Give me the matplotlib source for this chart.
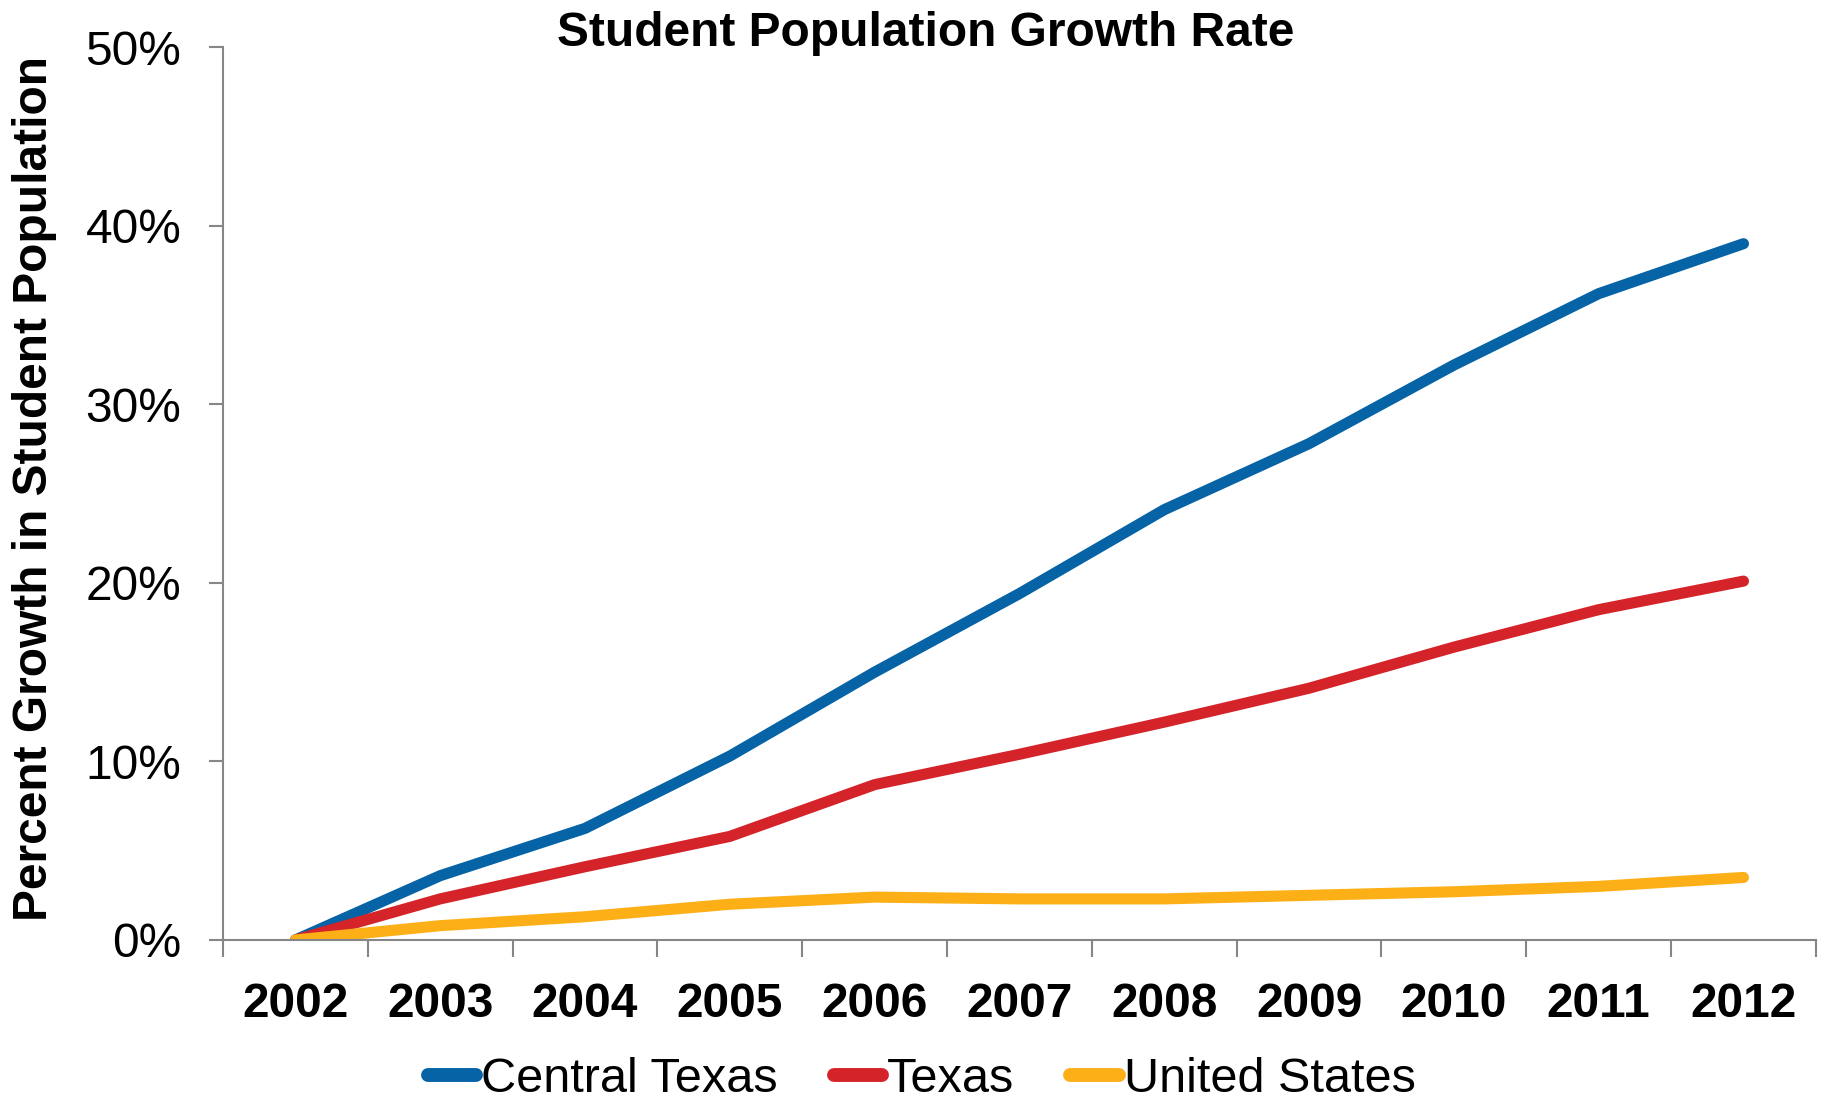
import matplotlib
matplotlib.use("Agg")
import matplotlib.pyplot as plt
from matplotlib.ticker import FixedLocator, PercentFormatter

plt.rcParams['font.family'] = ['Liberation Sans', 'DejaVu Sans']

years = ["2002", "2003", "2004", "2005", "2006", "2007", "2008", "2009", "2010", "2011", "2012"]
central_texas = [0.0, 3.6, 6.25, 10.3, 15.0, 19.4, 24.1, 27.8, 32.2, 36.2, 39.0]
texas = [0.0, 2.3, 4.1, 5.8, 8.7, 10.4, 12.2, 14.1, 16.4, 18.5, 20.1]
united_states = [0.0, 0.8, 1.3, 2.0, 2.4, 2.3, 2.3, 2.5, 2.7, 3.0, 3.5]
yticks = [0, 10, 20, 30, 40, 50]

fig = plt.figure(figsize=(18.25, 11), dpi=100)
ax = fig.add_axes([0.1222, 0.1455, 0.8728, 0.8115])

x = list(range(len(years)))
ax.plot(x, central_texas, color="#0563A6", lw=8, solid_capstyle="round", label="Central Texas")
ax.plot(x, texas, color="#D5232A", lw=8, solid_capstyle="round", label="Texas")
ax.plot(x, united_states, color="#FCAF17", lw=8, solid_capstyle="round", label="United States")

ax.set_xlim(-0.5, len(years) - 0.5)
ax.set_ylim(0, 50)
ax.set_yticks(yticks)
ax.yaxis.set_major_formatter(PercentFormatter(decimals=0))
ax.set_xticks(x)
ax.set_xticklabels(years, fontsize=34.5, fontweight="bold")
ax.xaxis.set_minor_locator(FixedLocator([i - 0.5 for i in range(len(years) + 1)]))
ax.tick_params(axis="x", which="major", length=0, pad=30)
ax.tick_params(axis="x", which="minor", length=12, width=1.5, color="#868686", direction="out")
ax.tick_params(axis="y", which="major", length=10, width=1.5, color="#868686", labelsize=34.5, pad=20)

for s in ["top", "right"]:
    ax.spines[s].set_visible(False)
for s in ["left", "bottom"]:
    ax.spines[s].set_color("#868686")
    ax.spines[s].set_linewidth(1.5)

fig.text(0.507, 0.970, "Student Population Growth Rate", ha="center", va="center",
         fontsize=34.5, fontweight="bold")
fig.text(0.019, 0.556, "Percent Growth in Student Population", ha="center", va="center",
         rotation=90, fontsize=34.5, fontweight="bold")

leg = fig.legend(loc="center", bbox_to_anchor=(0.505, 0.019), ncol=3, frameon=False,
                 fontsize=35, handlelength=1.0, handletextpad=0.1, columnspacing=1.15,
                 borderpad=0.1)
for h in leg.get_lines():
    h.set_linewidth(10)
    h.set_solid_capstyle("round")

fig.savefig("out.png", dpi=100)
